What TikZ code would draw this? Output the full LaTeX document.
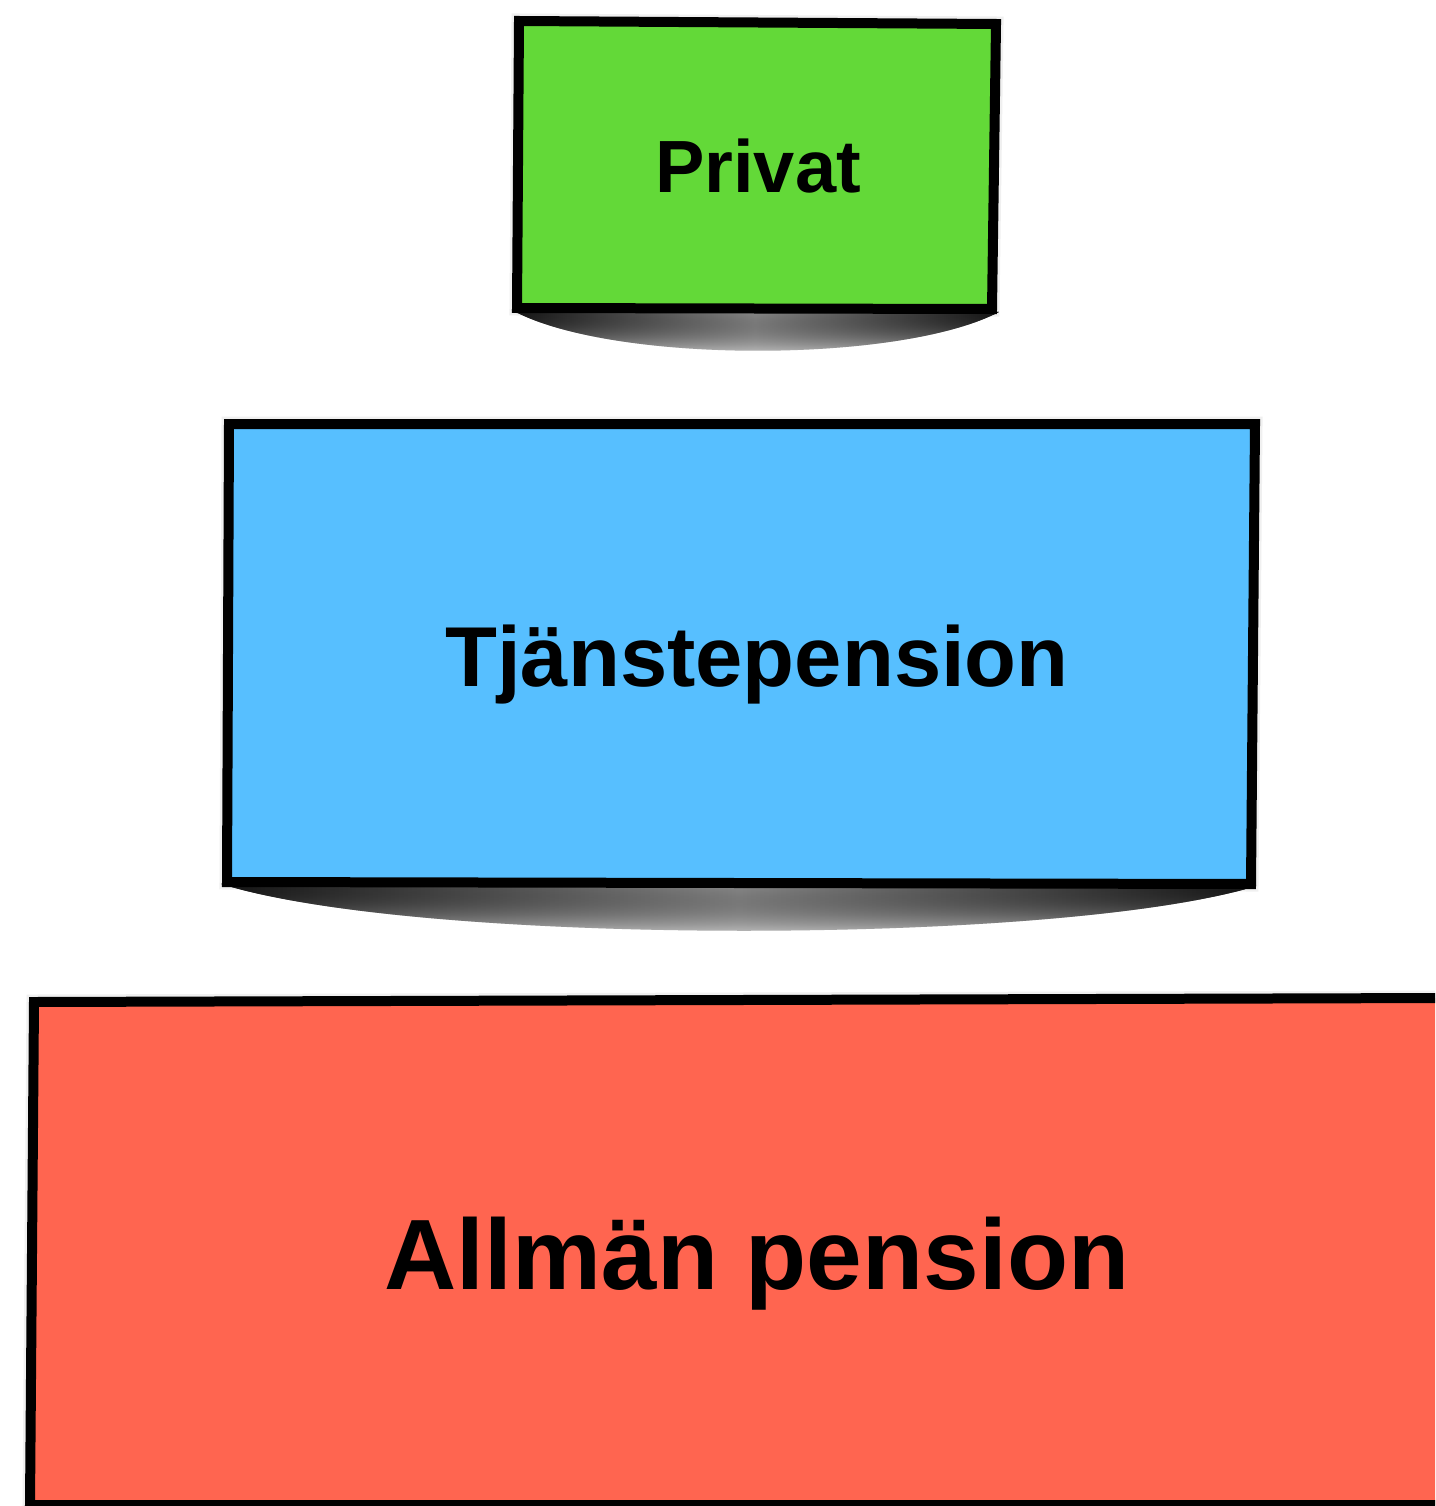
\documentclass[tikz,border=0pt]{standalone}
\usepackage{fontspec}
\setmainfont{Liberation Sans}
\usetikzlibrary{fadings}
\definecolor{privgreen}{RGB}{99,217,56}
\definecolor{tjblue}{RGB}{87,191,255}
\definecolor{allred}{RGB}{255,101,80}
\tikzfading[name=shadowdown, top color=transparent!0, bottom color=transparent!100]
\tikzset{
  boxline/.style={draw=black, line width=10pt, line join=miter},
  halo/.style={draw=black!6, line width=15pt, line join=miter},
  curlshadow/.style={left color=black!92, right color=black!92, middle color=black!45, path fading=shadowdown},
  lbl/.style={anchor=base, inner sep=0pt, font=\bfseries}
}
\begin{document}
\begin{tikzpicture}[x=1pt,y=-1pt]
\useasboundingbox (0,0) rectangle (1435,1506);
\fill[white] (0,0) rectangle (1435,1506);
\clip (0,0) rectangle (1435,1506);

% Privat
\draw[halo] (519,21) -- (996,24) -- (992,309) -- (517,308) -- cycle;
\fill[curlshadow] (512,310) -- (999,312) .. controls (900,364) and (610,364) .. (512,310) -- cycle;
\fill[privgreen] (519,21) -- (996,24) -- (992,309) -- (517,308) -- cycle;
\draw[boxline] (519,21) -- (996,24) -- (992,309) -- (517,308) -- cycle;
\node[lbl, font=\bfseries\fontsize{74}{80}\selectfont] (privat) at (758,193) {Privat};

% Tjanstepension
\draw[halo] (229,424) -- (1255,424) -- (1251,884) -- (227,882) -- cycle;
\fill[curlshadow] (222,884) -- (1258,886) .. controls (1060,946) and (420,946) .. (222,884) -- cycle;
\fill[tjblue] (229,424) -- (1255,424) -- (1251,884) -- (227,882) -- cycle;
\draw[boxline] (229,424) -- (1255,424) -- (1251,884) -- (227,882) -- cycle;
\node[lbl, font=\bfseries\fontsize{85}{92}\selectfont] (tjanst) at (757,686) {Tjänstepension};

% Allman pension
\draw[halo] (34,1002) -- (1445,998) -- (1445,1505) -- (30,1505) -- cycle;
\fill[allred] (34,1002) -- (1445,998) -- (1445,1505) -- (30,1505) -- cycle;
\draw[boxline] (34,1002) -- (1445,998) -- (1445,1505) -- (30,1505) -- cycle;
\node[lbl, font=\bfseries\fontsize{100}{108}\selectfont] (allman) at (757,1289) {Allmän pension};
\end{tikzpicture}
\end{document}
